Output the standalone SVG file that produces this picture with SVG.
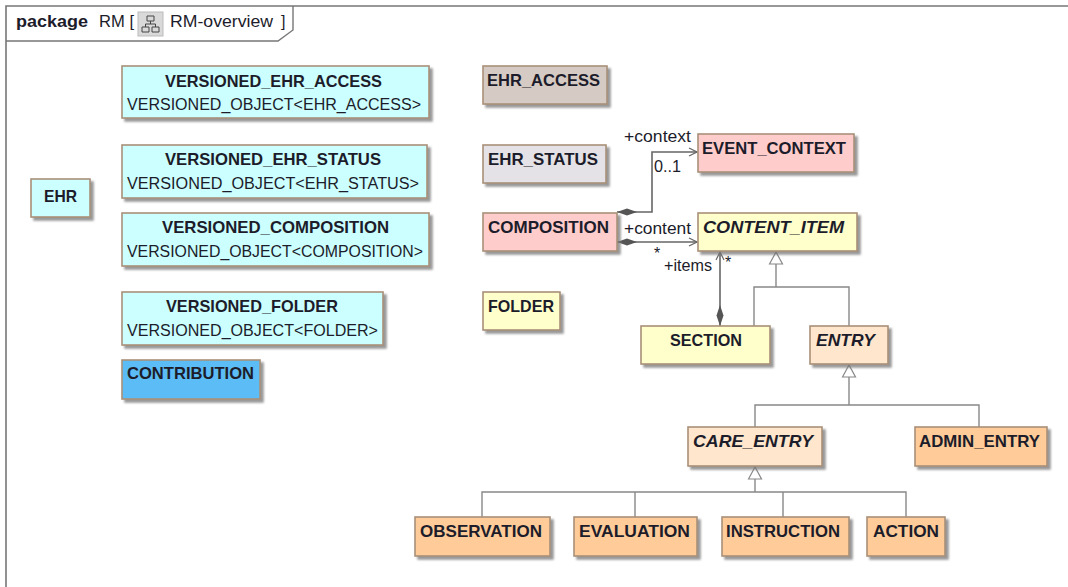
<svg xmlns="http://www.w3.org/2000/svg" width="1068" height="587" viewBox="0 0 1068 587">
<defs>
<filter id="sh" x="-10%" y="-10%" width="120%" height="130%"><feDropShadow dx="3" dy="3" stdDeviation="0.9" flood-color="#777" flood-opacity="0.75"/></filter>
<marker id="open" markerWidth="10" markerHeight="10" refX="9" refY="5" orient="auto" markerUnits="userSpaceOnUse"><path d="M1 1 L9 5 L1 9" fill="none" stroke="#666" stroke-width="1.2"/></marker>
<marker id="tri" markerWidth="14" markerHeight="16" refX="13" refY="8" orient="auto" markerUnits="userSpaceOnUse"><path d="M1 1.500 L13 8 L1 14.500 Z" fill="#fff" stroke="#888" stroke-width="1.2"/></marker>
</defs>
<style>
text{font-family:"Liberation Sans",Arial,sans-serif;font-size:16px;fill:#1c1c2a}
.b{font-weight:700;font-size:16.5px}.i{font-style:italic}
.box{stroke:#a89078;stroke-width:1.6;filter:url(#sh)}
.c{fill:#ccffff}.g1{fill:#d6cbc4}.g2{fill:#e4e2e6}.r{fill:#ffcccc}.y{fill:#ffffcc}.o{fill:#ffcc99}.l{fill:#ffe6cc}.bl{fill:#5cbcf5}
.gen{fill:none;stroke:#888;stroke-width:1.4}
.as{fill:none;stroke:#666;stroke-width:1.6}
.dia{fill:#555}
</style>
<rect width="1068" height="587" fill="#fff"/>
<g id="frame">
<path d="M1068 6 H6 V587" fill="none" stroke="#777" stroke-width="1.6"/>
<path d="M6 41 H278 L293 30 V6" fill="none" stroke="#777" stroke-width="1.4"/>
<text x="16" y="27" class="b" textLength="72" lengthAdjust="spacingAndGlyphs">package</text>
<text x="99" y="27" textLength="35" lengthAdjust="spacingAndGlyphs">RM [</text>
<rect x="138" y="12" width="25" height="24" fill="#d9d9d9" stroke="#bbb"/>
<path d="M147 16h7v5h-7zM142 27h7v5h-7zM152 27h7v5h-7zM150.500 21v3M145.500 27v-3h10v3" fill="none" stroke="#444" stroke-width="1"/>
<text x="170" y="27" textLength="103" lengthAdjust="spacingAndGlyphs">RM-overview</text>
<text x="281" y="27">]</text>
</g>
<g id="connectors">
<path class="as" d="M617 212 H652 V152 H697" marker-end="url(#open)"/>
<path class="dia" d="M617 212 L627 208.500 L637 212 L627 215.500 Z"/>
<path class="as" d="M617 242 H697" marker-end="url(#open)"/>
<path class="dia" d="M617 242 L627 238.500 L637 242 L627 245.500 Z"/>
<path class="as" d="M720 326 V252" marker-end="url(#open)"/>
<path class="dia" d="M720 326 L716.500 315.500 L720 305 L723.500 315.500 Z"/>
<path class="gen" d="M754 326 V287 H849 V326"/>
<path class="gen" d="M776 287 V252" marker-end="url(#tri)"/>
<path class="gen" d="M755 427 V405 H979 V427"/>
<path class="gen" d="M849 405 V365" marker-end="url(#tri)"/>
<path class="gen" d="M482 517 V492 H906 V517"/>
<path class="gen" d="M635 517 V492M783 517 V492"/>
<path class="gen" d="M755 492 V467" marker-end="url(#tri)"/>
<text x="624" y="142" textLength="67" lengthAdjust="spacingAndGlyphs">+context</text>
<text x="654" y="172" textLength="27" lengthAdjust="spacingAndGlyphs">0..1</text>
<text x="624" y="234" textLength="67" lengthAdjust="spacingAndGlyphs">+content</text>
<text x="654" y="259">*</text>
<text x="664" y="271" textLength="48" lengthAdjust="spacingAndGlyphs">+items</text>
<text x="725" y="268">*</text>
</g>
<g id="VERSIONED_EHR_ACCESS"><rect class="box c" x="122" y="66" width="307" height="52"/><text class="b" x="165" y="87" textLength="217" lengthAdjust="spacingAndGlyphs">VERSIONED_EHR_ACCESS</text><text x="127" y="110" textLength="294" lengthAdjust="spacingAndGlyphs">VERSIONED_OBJECT&lt;EHR_ACCESS&gt;</text></g>
<g id="VERSIONED_EHR_STATUS"><rect class="box c" x="122" y="145" width="305" height="53"/><text class="b" x="165" y="165" textLength="216" lengthAdjust="spacingAndGlyphs">VERSIONED_EHR_STATUS</text><text x="127" y="189" textLength="292" lengthAdjust="spacingAndGlyphs">VERSIONED_OBJECT&lt;EHR_STATUS&gt;</text></g>
<g id="EHR"><rect class="box c" x="31" y="179" width="59" height="38"/><text class="b" x="44" y="202" textLength="33" lengthAdjust="spacingAndGlyphs">EHR</text></g>
<g id="VERSIONED_COMPOSITION"><rect class="box c" x="122" y="213" width="307" height="53"/><text class="b" x="162" y="233" textLength="227" lengthAdjust="spacingAndGlyphs">VERSIONED_COMPOSITION</text><text x="127" y="257" textLength="296" lengthAdjust="spacingAndGlyphs">VERSIONED_OBJECT&lt;COMPOSITION&gt;</text></g>
<g id="VERSIONED_FOLDER"><rect class="box c" x="122" y="292" width="261" height="53"/><text class="b" x="166" y="312" textLength="172" lengthAdjust="spacingAndGlyphs">VERSIONED_FOLDER</text><text x="127" y="336" textLength="251" lengthAdjust="spacingAndGlyphs">VERSIONED_OBJECT&lt;FOLDER&gt;</text></g>
<g id="CONTRIBUTION"><rect class="box bl" x="122" y="360" width="138" height="39"/><text class="b" x="127" y="379" textLength="127" lengthAdjust="spacingAndGlyphs">CONTRIBUTION</text></g>
<g id="EHR_ACCESS"><rect class="box g1" x="483" y="66" width="124" height="38"/><text class="b" x="487" y="86" textLength="113" lengthAdjust="spacingAndGlyphs">EHR_ACCESS</text></g>
<g id="EHR_STATUS"><rect class="box g2" x="483" y="145" width="123" height="38"/><text class="b" x="488" y="165" textLength="110" lengthAdjust="spacingAndGlyphs">EHR_STATUS</text></g>
<g id="COMPOSITION"><rect class="box r" x="483" y="213" width="134" height="38"/><text class="b" x="488" y="233" textLength="121" lengthAdjust="spacingAndGlyphs">COMPOSITION</text></g>
<g id="FOLDER"><rect class="box y" x="483" y="292" width="77" height="38"/><text class="b" x="488" y="312" textLength="66" lengthAdjust="spacingAndGlyphs">FOLDER</text></g>
<g id="EVENT_CONTEXT"><rect class="box r" x="698" y="134" width="156" height="38"/><text class="b" x="702" y="154" textLength="144" lengthAdjust="spacingAndGlyphs">EVENT_CONTEXT</text></g>
<g id="CONTENT_ITEM"><rect class="box y" x="698" y="213" width="159" height="38"/><text class="b i" x="703" y="233" textLength="141" lengthAdjust="spacingAndGlyphs">CONTENT_ITEM</text></g>
<g id="SECTION"><rect class="box y" x="641" y="326" width="129" height="38"/><text class="b" x="670" y="346" textLength="72" lengthAdjust="spacingAndGlyphs">SECTION</text></g>
<g id="ENTRY"><rect class="box l" x="810" y="326" width="78" height="38"/><text class="b i" x="816" y="346" textLength="59" lengthAdjust="spacingAndGlyphs">ENTRY</text></g>
<g id="CARE_ENTRY"><rect class="box l" x="688" y="427" width="134" height="39"/><text class="b i" x="693" y="447" textLength="120" lengthAdjust="spacingAndGlyphs">CARE_ENTRY</text></g>
<g id="ADMIN_ENTRY"><rect class="box o" x="915" y="427" width="132" height="39"/><text class="b" x="919" y="447" textLength="121" lengthAdjust="spacingAndGlyphs">ADMIN_ENTRY</text></g>
<g id="OBSERVATION"><rect class="box o" x="415" y="517" width="135" height="39"/><text class="b" x="420" y="537" textLength="122" lengthAdjust="spacingAndGlyphs">OBSERVATION</text></g>
<g id="EVALUATION"><rect class="box o" x="574" y="517" width="123" height="39"/><text class="b" x="579" y="537" textLength="111" lengthAdjust="spacingAndGlyphs">EVALUATION</text></g>
<g id="INSTRUCTION"><rect class="box o" x="722" y="517" width="127" height="39"/><text class="b" x="726" y="537" textLength="114" lengthAdjust="spacingAndGlyphs">INSTRUCTION</text></g>
<g id="ACTION"><rect class="box o" x="867" y="517" width="78" height="39"/><text class="b" x="873" y="537" textLength="66" lengthAdjust="spacingAndGlyphs">ACTION</text></g>
</svg>
